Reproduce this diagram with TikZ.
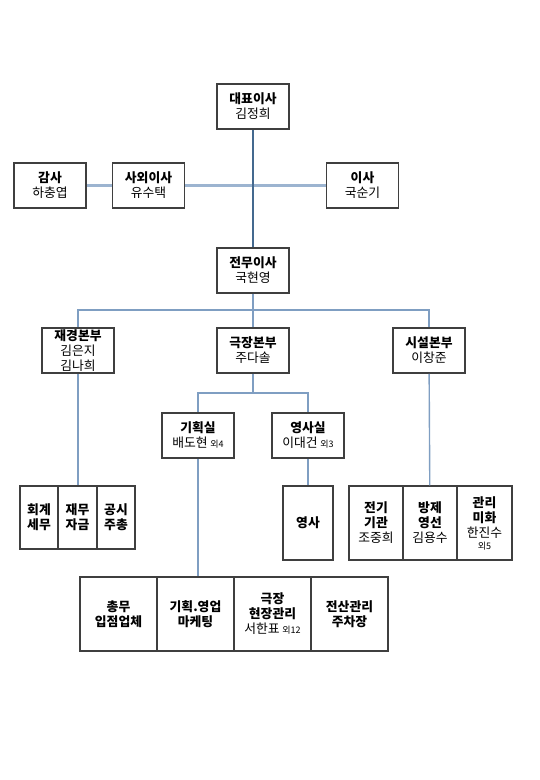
\documentclass[tikz,border=0pt]{standalone}
\usepackage{fontspec}
\newfontfamily\kr{Noto Sans CJK KR}
\newcommand\sm[1]{{\fontsize{9}{10}\selectfont #1}}
\definecolor{boxgray}{HTML}{3F3F3F}
\definecolor{darkline}{HTML}{44698F}
\definecolor{lightline}{HTML}{7F9EC2}
\definecolor{paleline}{HTML}{9CB4D0}
\begin{document}
\begin{tikzpicture}[x=1pt,y=-1pt,
    box/.style={draw=boxgray,line width=1.5pt,fill=white,align=center,inner sep=0pt,
      minimum width=72pt,minimum height=45pt,font=\kr\fontsize{12.8}{15}\selectfont},
    cell/.style={box,minimum width=#1,minimum height=74pt},
    line/.style={draw=lightline,line width=1.4pt}]
  \useasboundingbox (0,0) rectangle (540,780);
  \draw
    (253,106.5) node[box] (ceo){\textbf{대표이사}\\김정희}
    (50,185.5) node[box] (aud){\textbf{감사}\\하충엽}
    (148.5,185.5) node[box] (out){\textbf{사외이사}\\유수택}
    (362.5,185.5) node[box] (dir){\textbf{이사}\\국순기}
    (253,270.5) node[box] (exe){\textbf{전무이사}\\국현영}
    (78,350.5) node[box] (fin){\textbf{재경본부}\\김은지\\김나희}
    (253,350.5) node[box] (thr){\textbf{극장본부}\\주다솔}
    (429,350.5) node[box] (fac){\textbf{시설본부}\\이창준}
    (198,435.5) node[box] (pln){\textbf{기획실}\\배도현 \sm{외4}}
    (308,435.5) node[box] (prj){\textbf{영사실}\\이대건 \sm{외3}};
  % 재경본부 아래
  \draw
    (39,517.5) node[cell=38pt,minimum height=63pt] (f1){\textbf{회계}\\\textbf{세무}}
    (77.5,517.5) node[cell=39pt,minimum height=63pt] (f2){\textbf{재무}\\\textbf{자금}}
    (116,517.5) node[cell=38pt,minimum height=63pt] (f3){\textbf{공시}\\\textbf{주총}};
  % 영사실, 시설본부 아래
  \draw
    (308,523) node[cell=50pt] (p1){\textbf{영사}}
    (376,523) node[cell=54pt] (s1){\textbf{전기}\\\textbf{기관}\\조중희}
    (430,523) node[cell=54pt] (s2){\textbf{방제}\\\textbf{영선}\\김용수}
    (484.5,523) node[cell=55pt] (s3){\textbf{관리}\\\textbf{미화}\\한진수\\[-3pt]\sm{외5}};
  % 기획실 아래
  \draw
    (118.5,614) node[cell=77pt] (b1){\textbf{총무}\\\textbf{입점업체}}
    (195.5,614) node[cell=77pt] (b2){\textbf{기획.영업}\\\textbf{마케팅}}
    (272.5,614) node[cell=77pt] (b3){\textbf{극장}\\\textbf{현장관리}\\서한표 \sm{외12}}
    (349.5,614) node[cell=77pt] (b4){\textbf{전산관리}\\\textbf{주차장}};
  \coordinate (hq) at (253,310);
  \coordinate (ts) at (253,393);
  \begin{scope}[line]
    \draw[draw=paleline,line width=2.2pt] (aud) -- (out);
    \draw[draw=paleline,line width=2.2pt] (out) -- (dir);
    \draw[draw=darkline] (ceo) -- (exe);
    \draw (exe) -- (hq);
    \draw (hq) -| (fin);
    \draw (hq) -- (thr);
    \draw (hq) -| (fac);
    \draw (thr) -- (ts);
    \draw (ts) -| (pln);
    \draw (ts) -| (prj);
    \draw (fin) -- (fin |- f2.north);
    \draw (pln) -- (pln |- b2.north);
    \draw (prj) -- (p1);
    \draw (fac) -- (s2);
  \end{scope}
\end{tikzpicture}
\end{document}
